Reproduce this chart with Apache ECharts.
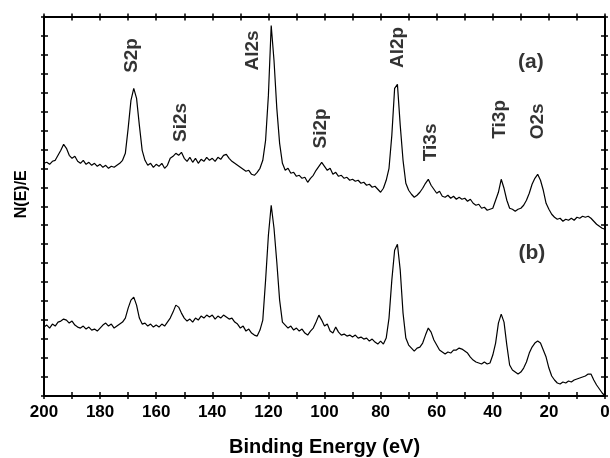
<!DOCTYPE html>
<html>
<head>
<meta charset="utf-8">
<script src="https://cdn.jsdelivr.net/npm/echarts@6/dist/echarts.min.js"></script>
<style>html,body{margin:0;padding:0;background:#fff}#c{width:610px;height:458px}</style>
</head>
<body>
<div id="c"></div>
<script>
const energy = [200,199,198,197,196,195,194,193,192,191,190,189,188,187,186,185,184,183,182,181,
180,179,178,177,176,175,174,173,172,171,170,169,168,167,166,165,164,163,162,161,
160,159,158,157,156,155,154,153,152,151,150,149,148,147,146,145,144,143,142,141,
140,139,138,137,136,135,134,133,132,131,130,129,128,127,126,125,124,123,122,121,
120,119,118,117,116,115,114,113,112,111,110,109,108,107,106,105,104,103,102,101,
100,99,98,97,96,95,94,93,92,91,90,89,88,87,86,85,84,83,82,81,
80,79,78,77,76,75,74,73,72,71,70,69,68,67,66,65,64,63,62,61,
60,59,58,57,56,55,54,53,52,51,50,49,48,47,46,45,44,43,42,41,
40,39,38,37,36,35,34,33,32,31,30,29,28,27,26,25,24,23,22,21,
20,19,18,17,16,15,14,13,12,11,10,9,8,7,6,5,4,3,2,1,0];

// spectrum (a), arbitrary intensity units
const spectrumA = [233,234,232,235,236,241,246,252,248,241,238,240,235,233,236,232,234,231,233,230,
232,229,231,228,230,229,231,233,236,243,268,296,308,298,271,246,236,231,233,229,
232,230,233,228,231,238,240,243,241,244,238,235,239,234,238,233,237,235,239,236,
238,235,239,237,241,242,238,235,233,231,229,227,225,226,222,221,224,228,236,256,
301,371,336,288,253,233,226,228,223,224,220,221,218,219,214,218,221,226,230,234,
230,226,228,222,224,220,221,218,219,216,217,215,216,213,214,211,212,209,210,207,
204,208,216,228,261,308,312,271,236,213,206,202,199,201,204,208,213,217,211,207,
203,205,200,199,201,198,200,197,199,197,198,195,197,193,191,192,188,189,186,187,
188,196,204,217,208,196,188,187,185,187,188,191,196,203,212,218,222,216,206,193,
187,182,179,177,178,175,177,176,178,176,179,178,180,179,180,178,175,172,170,168,167];

// spectrum (b), arbitrary intensity units
const spectrumB = [69,71,68,72,70,74,75,77,76,73,75,71,69,68,70,67,69,66,67,65,
68,71,73,70,72,68,70,72,74,78,88,96,99,91,78,72,73,70,72,69,
71,69,72,70,74,78,84,91,89,83,78,75,77,74,78,76,80,78,81,79,
81,77,80,78,81,79,77,78,74,72,68,70,65,67,63,61,60,66,76,116,
161,191,168,134,96,74,71,68,70,66,68,65,67,63,61,65,68,74,81,76,
70,72,65,63,69,64,61,62,60,61,59,61,58,59,57,58,55,57,54,52,
55,52,58,78,116,146,152,126,83,58,51,48,45,48,49,53,61,68,64,56,
51,46,44,42,44,43,46,46,48,47,45,43,39,36,34,33,32,34,32,33,
41,53,73,82,74,51,31,26,24,22,24,28,34,43,49,53,55,53,46,39,
28,20,16,13,12,14,13,15,14,16,17,18,19,20,22,22,16,11,7,3,0];

const xTickLabels = [200,180,160,140,120,100,80,60,40,20,0];

const peakNames = ['S2p','Si2s','Al2s','Si2p','Al2p','Ti3s','Ti3p','O2s'];
const peakLabelE = [168.75,151.4,125.7,101.25,73.9,62.1,37.5,23.9];
const peakLabelY = [341,274,346,268,349,254,277,275];

const panelNames = ['(a)','(b)'];
const panelE = [26.4,26.1];
const panelY = [334,143];

const FONT = '"Liberation Sans", Arial, Helvetica, sans-serif';
const chart = echarts.init(document.getElementById('c'), null, {renderer:'canvas'});

function xa(extra){
  return Object.assign({
    type:'value', min:0, max:200, interval:10, inverse:true,
    axisLine:{show:true, onZero:false, lineStyle:{color:'#000', width:2}},
    axisTick:{show:true, lineStyle:{color:'#000', width:1.5}},
    axisLabel:{show:false},
    splitLine:{show:false}
  }, extra);
}
function ya(extra){
  return Object.assign({
    type:'value', min:0, max:380, interval:19,
    axisLine:{show:true, onZero:false, lineStyle:{color:'#000', width:2}},
    axisTick:{show:true, lineStyle:{color:'#000', width:1.5}},
    axisLabel:{show:false},
    splitLine:{show:false}
  }, extra);
}

const option = {
  animation:false,
  backgroundColor:'#fff',
  grid:{left:44, right:5, top:16.5, bottom:62, containLabel:false, outerBoundsMode:'none'},
  xAxis:[
    xa({position:'bottom', axisTick:{show:true, inside:false, length:3, lineStyle:{color:'#000', width:1.5}},
      axisLabel:{show:true, margin:8, color:'#000', fontSize:17, fontWeight:'bold', fontFamily:FONT,
        formatter: v => xTickLabels.indexOf(v) >= 0 ? String(v) : ''},
      name:'Binding Energy (eV)', nameLocation:'middle', nameGap:41,
      nameTextStyle:{color:'#000', fontSize:20, fontWeight:'bold', fontFamily:FONT}}),
    xa({position:'bottom', axisTick:{show:true, inside:true, length:4, lineStyle:{color:'#000', width:1.5}}}),
    xa({position:'top', axisTick:{show:true, inside:true, length:4, lineStyle:{color:'#000', width:1.5}}}),
    xa({position:'top', axisTick:{show:true, inside:false, length:3, lineStyle:{color:'#000', width:1.5}}})
  ],
  yAxis:[
    ya({position:'left', axisTick:{show:true, inside:true, length:4, lineStyle:{color:'#000', width:1.5}},
      name:'N(E)/E', nameLocation:'middle', nameGap:14, nameRotate:90,
      nameTextStyle:{color:'#000', fontSize:16, fontWeight:'bold', fontFamily:FONT, padding:[0,0,0,24]}}),
    ya({position:'left', axisTick:{show:true, inside:false, length:3, lineStyle:{color:'#000', width:1.5}}}),
    ya({position:'right', axisTick:{show:true, inside:true, length:4, lineStyle:{color:'#000', width:1.5}}}),
    ya({position:'right', axisTick:{show:true, inside:false, length:3, lineStyle:{color:'#000', width:1.5}}})
  ],
  series:[
    {type:'line', name:'(a)', xAxisIndex:0, yAxisIndex:0, showSymbol:false, symbol:'none',
      lineStyle:{color:'#000', width:1.2}, data: energy.map((e,i)=>[e, spectrumA[i]])},
    {type:'line', name:'(b)', xAxisIndex:0, yAxisIndex:0, showSymbol:false, symbol:'none',
      lineStyle:{color:'#000', width:1.2}, data: energy.map((e,i)=>[e, spectrumB[i]])},
    {type:'scatter', xAxisIndex:0, yAxisIndex:0, symbolSize:0, silent:true,
      label:{show:true, position:'inside', rotate:90, color:'#000', fontSize:19, fontWeight:'bold', fontFamily:FONT,
        formatter: p => p.name},
      data: peakNames.map((n,i)=>({name:n, value:[peakLabelE[i], peakLabelY[i]]}))},
    {type:'scatter', xAxisIndex:0, yAxisIndex:0, symbolSize:0, silent:true,
      label:{show:true, position:'inside', color:'#000', fontSize:21, fontWeight:'bold', fontFamily:FONT,
        formatter: p => p.name},
      data: panelNames.map((n,i)=>({name:n, value:[panelE[i], panelY[i]]}))}
  ]
};
chart.setOption(option);
</script>
</body>
</html>
